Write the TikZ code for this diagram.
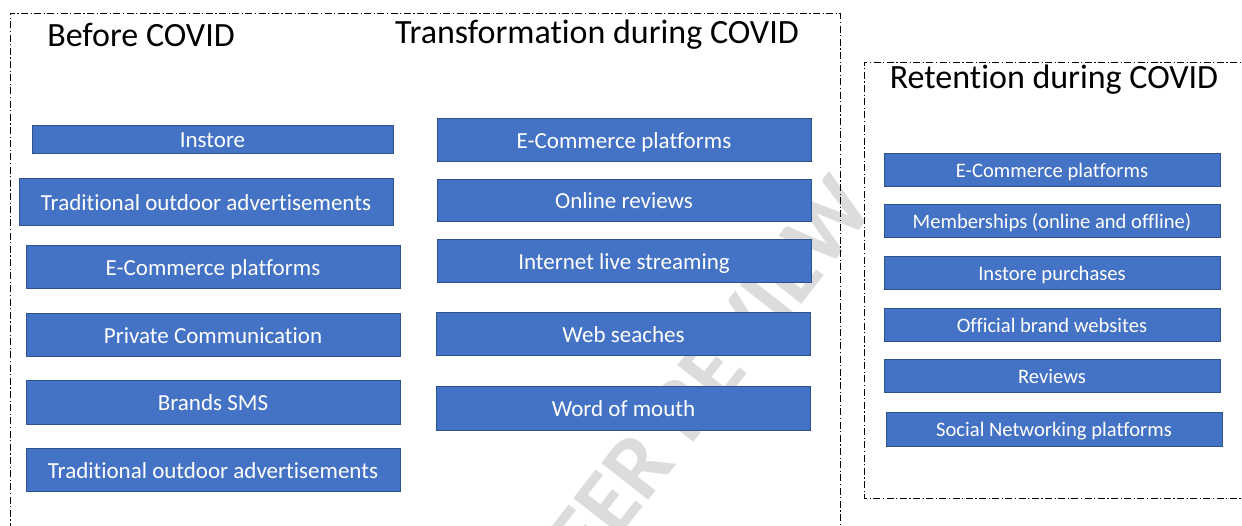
\documentclass[tikz,border=0pt]{standalone}
\usepackage{fontspec}
\setmainfont{Carlito}[Ligatures=NoCommon]
\usepackage{tikz}
\definecolor{boxfill}{HTML}{4472C4}
\definecolor{boxline}{HTML}{2F528F}
\definecolor{wmark}{HTML}{DCDCDC}

\begin{document}
\begin{tikzpicture}[x=1pt,y=-1pt,
    item/.style={draw=boxline,fill=boxfill,text=white,line width=.8pt,
      inner sep=0pt,minimum width=374pt,minimum height=43pt,
      text height=17.5pt,text depth=0pt,
      font=\fontsize{23}{25}\selectfont},
    small/.style={item,minimum width=336pt,minimum height=33pt,
      text height=15pt,font=\fontsize{20.6}{22}\selectfont},
    head/.style={font=\fontsize{34}{36}\selectfont},
    frame/.style={line width=.9pt,dash pattern=on 7pt off 2.5pt on 1.2pt off 2.5pt}]
      \useasboundingbox (0,0) rectangle (1242,525);
      % watermark behind everything
      \node[text=wmark,rotate=52,font=\fontsize{92}{96}\bfseries\selectfont] (wm) at (695,392) {PEER REVIEW};
      % frames
      \draw[frame] (10,530) -- (10,13) -- (840,13) -- (840,530);
      \draw[frame] (1250,498) -- (864,498) -- (864,62) -- (1250,62);
      % headings
      \node[head] (before) at (141,35) {Before COVID};
      \node[head] (during) at (597,35) {Transformation during COVID};
      \node[head] (after)  at (1054,80) {Retention during COVID};
      % before COVID
      \node[item,minimum width=361pt,minimum height=28pt] (b1) at (212.5,139) {Instore};
      \node[item,minimum height=47pt] (b2) at (206,201.5) {Traditional outdoor advertisements};
      \node[item] (b3) at (213,266.5) {E-Commerce platforms};
      \node[item] (b4) at (213,334.5) {Private Communication};
      \node[item,minimum height=44pt] (b5) at (213,402) {Brands SMS};
      \node[item] (b6) at (213,469.5) {Traditional outdoor advertisements};
      % transformation during COVID
      \node[item] (t1) at (624,139.5) {E-Commerce platforms};
      \node[item,minimum height=42pt] (t2) at (624,200) {Online reviews};
      \node[item] (t3) at (624,260.5) {Internet live streaming};
      \node[item] (t4) at (623.5,333.5) {Web seaches};
      \node[item,minimum height=44pt] (t5) at (623.5,408) {Word of mouth};
      % retention during COVID
      \node[small] (r1) at (1052,169.5) {E-Commerce platforms};
      \node[small] (r2) at (1052,220.5) {Memberships (online and offline)};
      \node[small] (r3) at (1052,272.5) {Instore purchases};
      \node[small] (r4) at (1052,324.5) {Official brand websites};
      \node[small] (r5) at (1052,375.5) {Reviews};
      \node[small,minimum height=34pt] (r6) at (1054,429) {Social Networking platforms};
\end{tikzpicture}
\end{document}
